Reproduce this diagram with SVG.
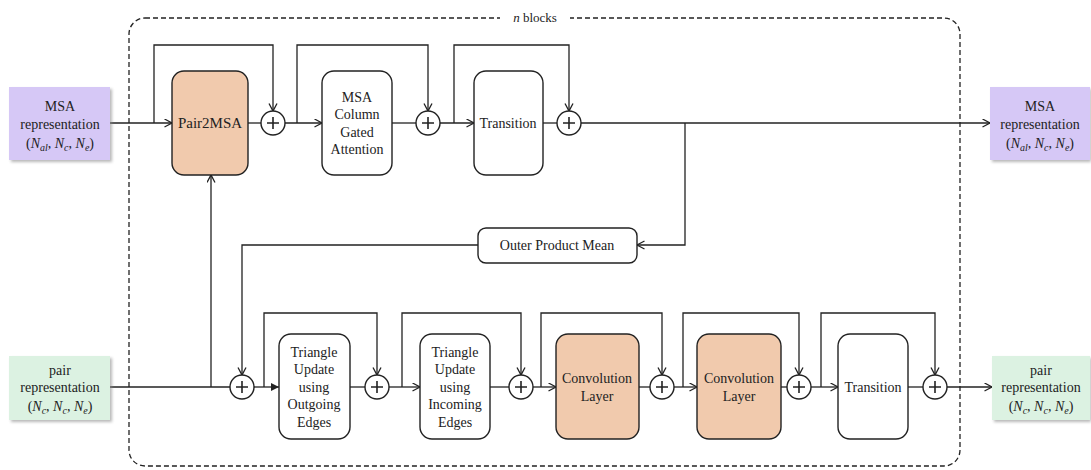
<svg xmlns="http://www.w3.org/2000/svg" width="1091" height="470" viewBox="0 0 1091 470">
<defs>
<marker id="ao" markerUnits="userSpaceOnUse" markerWidth="10" markerHeight="10" refX="8" refY="4.5" orient="auto">
<path d="M0.5,0.5 L8,4.5 L0.5,8.5" fill="none" stroke="#222" stroke-width="1.3"/>
</marker>
<marker id="af" markerUnits="userSpaceOnUse" markerWidth="10" markerHeight="10" refX="8" refY="4" orient="auto">
<path d="M0,0 L8,4 L0,8 Z" fill="#222"/>
</marker>
<filter id="sh" x="-10%" y="-10%" width="130%" height="140%">
<feGaussianBlur stdDeviation="1.5"/>
</filter>
</defs>
<style>
.box{fill:#fff;stroke:#222;stroke-width:1.4}
.org{fill:#f1caad;stroke:#222;stroke-width:1.4}
.c{fill:#fff;stroke:#222;stroke-width:1.4}
.p{stroke:#222;stroke-width:1.6}
.ln{fill:none;stroke:#222;stroke-width:1.3}
.arr{marker-end:url(#ao)}
.io-p{fill:#d6c8f6}
.io-g{fill:#dcf2e2}
.shd{fill:#888;opacity:0.6;filter:url(#sh)}
.it{font-style:italic}
.sub{font-size:10px;font-style:italic}
</style>
<rect width="1091" height="470" fill="#fff"/>

<g id="nblocks">
<rect x="129" y="18" width="831" height="448" rx="16" fill="none" stroke="#222" stroke-width="1.3" stroke-dasharray="5,3"/>
<rect x="500" y="10" width="70" height="16" fill="#fff"/>
<text x="535" y="22" font-family="Liberation Serif" font-size="13" fill="#222" text-anchor="middle"><tspan class="it">n</tspan> blocks</text>
</g>

<g id="connectors">
<line class="ln arr" x1="110" y1="123" x2="172" y2="123"/>
<path class="ln arr" d="M154,123 V45 H273 V111"/>
<line class="ln" x1="248" y1="123" x2="261" y2="123"/>
<line class="ln arr" x1="285" y1="123" x2="322" y2="123"/>
<path class="ln arr" d="M297,123 V45 H428 V111"/>
<line class="ln" x1="392" y1="123" x2="416" y2="123"/>
<line class="ln arr" x1="440" y1="123" x2="474" y2="123"/>
<path class="ln arr" d="M454,123 V45 H569 V111"/>
<line class="ln" x1="543" y1="123" x2="557" y2="123"/>
<line class="ln arr" x1="581" y1="123" x2="990" y2="123"/>
<path class="ln arr" d="M685,123 V245 H637"/>
<path class="ln arr" d="M478,245 H242 V375"/>

<line class="ln" x1="110" y1="387" x2="230" y2="387"/>
<line class="ln arr" x1="211" y1="387" x2="211" y2="175"/>
<line class="ln" x1="254" y1="387" x2="279" y2="387" marker-end="url(#af)"/>
<path class="ln arr" d="M264,387 V313 H377 V375"/>
<line class="ln" x1="350" y1="387" x2="365" y2="387"/>
<line class="ln arr" x1="389" y1="387" x2="420" y2="387"/>
<path class="ln arr" d="M402,387 V313 H521 V375"/>
<line class="ln" x1="490" y1="387" x2="509" y2="387"/>
<line class="ln arr" x1="533" y1="387" x2="556" y2="387"/>
<path class="ln arr" d="M541,387 V313 H662 V375"/>
<line class="ln" x1="639" y1="387" x2="650" y2="387"/>
<line class="ln arr" x1="674" y1="387" x2="697" y2="387"/>
<path class="ln arr" d="M683,387 V313 H799 V375"/>
<line class="ln" x1="781" y1="387" x2="787" y2="387"/>
<line class="ln arr" x1="811" y1="387" x2="838" y2="387"/>
<path class="ln arr" d="M821,387 V313 H935 V375"/>
<line class="ln" x1="908" y1="387" x2="923" y2="387"/>
<line class="ln arr" x1="947" y1="387" x2="992" y2="387"/>
</g>

<g id="msa-in">
<rect class="shd" x="11" y="89" width="101" height="73"/>
<rect class="io-p" x="9" y="87" width="101" height="73"/>
<text x="60" y="111" font-family="Liberation Serif" font-size="14" fill="#222" text-anchor="middle">MSA</text>
<text x="60" y="129" font-family="Liberation Serif" font-size="14" fill="#222" text-anchor="middle">representation</text>
<text x="60" y="148" font-family="Liberation Serif" font-size="14" fill="#222" text-anchor="middle">(<tspan class="it">N</tspan><tspan class="sub" dy="3">al</tspan><tspan dy="-3">, </tspan><tspan class="it">N</tspan><tspan class="sub" dy="3">c</tspan><tspan dy="-3">, </tspan><tspan class="it">N</tspan><tspan class="sub" dy="3">e</tspan><tspan dy="-3">)</tspan></text>
</g>

<g id="msa-out">
<rect class="shd" x="992" y="89" width="99" height="73"/>
<rect class="io-p" x="990" y="87" width="100" height="73"/>
<text x="1040" y="111" font-family="Liberation Serif" font-size="14" fill="#222" text-anchor="middle">MSA</text>
<text x="1040" y="129" font-family="Liberation Serif" font-size="14" fill="#222" text-anchor="middle">representation</text>
<text x="1040" y="148" font-family="Liberation Serif" font-size="14" fill="#222" text-anchor="middle">(<tspan class="it">N</tspan><tspan class="sub" dy="3">al</tspan><tspan dy="-3">, </tspan><tspan class="it">N</tspan><tspan class="sub" dy="3">c</tspan><tspan dy="-3">, </tspan><tspan class="it">N</tspan><tspan class="sub" dy="3">e</tspan><tspan dy="-3">)</tspan></text>
</g>

<g id="pair-in">
<rect class="shd" x="11" y="358" width="101" height="64"/>
<rect class="io-g" x="9" y="356" width="101" height="64"/>
<text x="60" y="375" font-family="Liberation Serif" font-size="14" fill="#222" text-anchor="middle">pair</text>
<text x="60" y="392" font-family="Liberation Serif" font-size="14" fill="#222" text-anchor="middle">representation</text>
<text x="60" y="411" font-family="Liberation Serif" font-size="14" fill="#222" text-anchor="middle">(<tspan class="it">N</tspan><tspan class="sub" dy="3">c</tspan><tspan dy="-3">, </tspan><tspan class="it">N</tspan><tspan class="sub" dy="3">c</tspan><tspan dy="-3">, </tspan><tspan class="it">N</tspan><tspan class="sub" dy="3">e</tspan><tspan dy="-3">)</tspan></text>
</g>

<g id="pair-out">
<rect class="shd" x="994" y="358" width="97" height="64"/>
<rect class="io-g" x="992" y="356" width="98" height="64"/>
<text x="1041" y="375" font-family="Liberation Serif" font-size="14" fill="#222" text-anchor="middle">pair</text>
<text x="1041" y="392" font-family="Liberation Serif" font-size="14" fill="#222" text-anchor="middle">representation</text>
<text x="1041" y="411" font-family="Liberation Serif" font-size="14" fill="#222" text-anchor="middle">(<tspan class="it">N</tspan><tspan class="sub" dy="3">c</tspan><tspan dy="-3">, </tspan><tspan class="it">N</tspan><tspan class="sub" dy="3">c</tspan><tspan dy="-3">, </tspan><tspan class="it">N</tspan><tspan class="sub" dy="3">e</tspan><tspan dy="-3">)</tspan></text>
</g>

<g id="pair2msa">
<rect class="org" x="172" y="71" width="76" height="104" rx="12"/>
<text x="210" y="128" font-family="Liberation Serif" font-size="15" fill="#222" text-anchor="middle">Pair2MSA</text>
</g>

<g id="msa-col">
<rect class="box" x="322" y="71" width="70" height="104" rx="12"/>
<text x="357" y="102" font-family="Liberation Serif" font-size="14" fill="#222" text-anchor="middle">MSA</text>
<text x="357" y="119" font-family="Liberation Serif" font-size="14" fill="#222" text-anchor="middle">Column</text>
<text x="357" y="137" font-family="Liberation Serif" font-size="14" fill="#222" text-anchor="middle">Gated</text>
<text x="357" y="154" font-family="Liberation Serif" font-size="14" fill="#222" text-anchor="middle">Attention</text>
</g>

<g id="transition1">
<rect class="box" x="474" y="71" width="69" height="104" rx="12"/>
<text x="508" y="128" font-family="Liberation Serif" font-size="14" fill="#222" text-anchor="middle">Transition</text>
</g>

<g id="opm">
<rect class="box" x="478" y="228" width="159" height="35" rx="8"/>
<text x="557" y="250" font-family="Liberation Serif" font-size="14" fill="#222" text-anchor="middle">Outer Product Mean</text>
</g>

<g id="tri-out">
<rect class="box" x="279" y="334" width="71" height="105" rx="12"/>
<text x="314" y="357" font-family="Liberation Serif" font-size="14" fill="#222" text-anchor="middle">Triangle</text>
<text x="314" y="374" font-family="Liberation Serif" font-size="14" fill="#222" text-anchor="middle">Update</text>
<text x="314" y="392" font-family="Liberation Serif" font-size="14" fill="#222" text-anchor="middle">using</text>
<text x="314" y="409" font-family="Liberation Serif" font-size="14" fill="#222" text-anchor="middle">Outgoing</text>
<text x="314" y="427" font-family="Liberation Serif" font-size="14" fill="#222" text-anchor="middle">Edges</text>
</g>

<g id="tri-in">
<rect class="box" x="420" y="334" width="70" height="105" rx="12"/>
<text x="455" y="357" font-family="Liberation Serif" font-size="14" fill="#222" text-anchor="middle">Triangle</text>
<text x="455" y="374" font-family="Liberation Serif" font-size="14" fill="#222" text-anchor="middle">Update</text>
<text x="455" y="392" font-family="Liberation Serif" font-size="14" fill="#222" text-anchor="middle">using</text>
<text x="455" y="409" font-family="Liberation Serif" font-size="14" fill="#222" text-anchor="middle">Incoming</text>
<text x="455" y="427" font-family="Liberation Serif" font-size="14" fill="#222" text-anchor="middle">Edges</text>
</g>

<g id="conv1">
<rect class="org" x="556" y="334" width="83" height="105" rx="12"/>
<text x="597" y="383" font-family="Liberation Serif" font-size="14" fill="#222" text-anchor="middle">Convolution</text>
<text x="597" y="401" font-family="Liberation Serif" font-size="14" fill="#222" text-anchor="middle">Layer</text>
</g>

<g id="conv2">
<rect class="org" x="697" y="334" width="84" height="105" rx="12"/>
<text x="739" y="383" font-family="Liberation Serif" font-size="14" fill="#222" text-anchor="middle">Convolution</text>
<text x="739" y="401" font-family="Liberation Serif" font-size="14" fill="#222" text-anchor="middle">Layer</text>
</g>

<g id="transition2">
<rect class="box" x="838" y="334" width="70" height="105" rx="12"/>
<text x="873" y="392" font-family="Liberation Serif" font-size="14" fill="#222" text-anchor="middle">Transition</text>
</g>

<g id="plus-nodes">
<g id="p1"><circle class="c" cx="273" cy="123" r="12"/><path class="p" d="M267,123 H279 M273,117 V129"/></g>
<g id="p2"><circle class="c" cx="428" cy="123" r="12"/><path class="p" d="M422,123 H434 M428,117 V129"/></g>
<g id="p3"><circle class="c" cx="569" cy="123" r="12"/><path class="p" d="M563,123 H575 M569,117 V129"/></g>
<g id="p4"><circle class="c" cx="242" cy="387" r="12"/><path class="p" d="M236,387 H248 M242,381 V393"/></g>
<g id="p5"><circle class="c" cx="377" cy="387" r="12"/><path class="p" d="M371,387 H383 M377,381 V393"/></g>
<g id="p6"><circle class="c" cx="521" cy="387" r="12"/><path class="p" d="M515,387 H527 M521,381 V393"/></g>
<g id="p7"><circle class="c" cx="662" cy="387" r="12"/><path class="p" d="M656,387 H668 M662,381 V393"/></g>
<g id="p8"><circle class="c" cx="799" cy="387" r="12"/><path class="p" d="M793,387 H805 M799,381 V393"/></g>
<g id="p9"><circle class="c" cx="935" cy="387" r="12"/><path class="p" d="M929,387 H941 M935,381 V393"/></g>
</g>
</svg>
